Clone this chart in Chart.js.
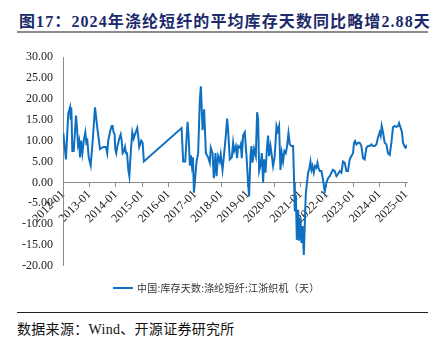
<!DOCTYPE html>
<html>
<head>
<meta charset="utf-8">
<script src="https://cdn.jsdelivr.net/npm/chart.js@4.4.1/dist/chart.umd.min.js"></script>
<style>
  body { margin: 0; background: #fff; width: 437px; height: 343px; position: relative; overflow: hidden; }
  #title { position: absolute; left: 19px; top: 8px; font: bold 16px "Liberation Serif", "Noto Sans CJK SC", serif; color: #1c2a6b; letter-spacing: 1.1px; white-space: nowrap; }
  #rule1 { position: absolute; left: 17px; top: 31px; width: 411px; height: 2px; background: #8c8c8c; }
  #wrap { position: absolute; left: 0; top: 40px; width: 437px; height: 243px; }
  #legend { position: absolute; left: 113px; top: 280px; font: 10px "Noto Sans CJK SC", sans-serif; color: #333; letter-spacing: 0.2px; white-space: nowrap; }
  #legend span.sw { display: inline-block; width: 20px; height: 2px; background: #0f70c1; vertical-align: middle; margin-right: 4px; position: relative; top: -1px; }
  #rule2 { position: absolute; left: 17px; top: 312px; width: 411px; height: 1px; background: #222; }
  #source { position: absolute; left: 17px; top: 318px; font: 14px "Liberation Serif", "Noto Sans CJK SC", serif; color: #111; letter-spacing: 0.3px; white-space: nowrap; }
</style>
</head>
<body>
<div id="title">图17：2024年涤纶短纤的平均库存天数同比略增2.88天</div>
<div id="rule1"></div>
<div id="wrap"><canvas id="chart"></canvas></div>
<div id="legend"><span class="sw"></span>中国:库存天数:涤纶短纤:江浙织机（天）</div>
<div id="rule2"></div>
<div id="source">数据来源：Wind、开源证券研究所</div>
<script>
// 中国:库存天数:涤纶短纤:江浙织机（天）
const dates = [
  '2012-01-05','2012-02-11','2012-03-14','2012-04-07','2012-04-17','2012-04-25','2012-05-09','2012-05-28',
  '2012-06-29','2012-07-13','2012-07-27','2012-08-10','2012-08-24','2012-09-07','2012-09-25','2012-10-14',
  '2012-11-05','2012-11-19','2012-12-03','2012-12-22','2013-01-19','2013-02-16','2013-03-20','2013-04-21',
  '2013-05-28','2013-07-12','2013-08-18','2013-09-05','2013-09-19','2013-10-12','2013-11-05','2013-11-19',
  '2013-12-02','2013-12-16','2013-12-25','2014-01-08','2014-01-22','2014-02-19','2014-03-10','2014-03-24',
  '2014-04-07','2014-04-25','2014-05-09','2014-05-23','2014-06-06','2014-06-24','2014-07-08','2014-07-31',
  '2014-08-18','2014-09-06','2014-09-24','2014-10-25','2014-11-08','2014-11-22','2014-12-20','2015-01-08',
  '2015-01-25','2016-06-30','2016-07-22','2016-08-19','2016-09-21','2016-10-05','2016-10-23','2016-11-06',
  '2016-11-20','2016-12-04','2016-12-18','2017-01-24','2017-02-15','2017-03-11','2017-03-25','2017-04-17',
  '2017-05-09','2017-06-02','2017-07-03','2017-07-26','2017-08-09','2017-09-02','2017-09-20','2017-10-13',
  '2017-10-27','2017-11-18','2017-12-11','2017-12-25','2018-01-18','2018-02-05','2018-03-05','2018-03-23',
  '2018-04-06','2018-04-29','2018-05-27','2018-06-14','2018-06-28','2018-07-21','2018-08-08','2018-08-22',
  '2018-09-15','2018-09-28','2018-10-12','2018-10-30','2018-11-22','2018-12-16','2019-01-07','2019-01-21',
  '2019-02-09','2019-02-23','2019-03-09','2019-03-31','2019-04-24','2019-05-12','2019-05-26','2019-06-09',
  '2019-06-28','2019-07-16','2019-08-03','2019-08-17','2019-09-05','2019-09-27','2019-10-11','2019-10-25',
  '2019-11-13','2019-11-27','2019-12-19','2020-01-11','2020-02-04','2020-02-22','2020-03-11','2020-03-30',
  '2020-04-17','2020-05-05','2020-05-24','2020-06-12','2020-06-30','2020-07-19','2020-08-06','2020-08-30',
  '2020-09-21','2020-10-05','2020-10-15','2020-10-29','2020-11-12','2020-11-30','2020-12-13','2021-01-02',
  '2021-01-16','2021-01-30','2021-02-17','2021-03-03','2021-03-16','2021-03-26','2021-04-09','2021-04-17',
  '2021-05-01','2021-05-20','2021-06-03','2021-06-17','2021-07-05','2021-07-23','2021-08-11','2021-08-25',
  '2021-09-08','2021-09-26','2021-10-19','2021-11-10','2021-12-04','2021-12-28','2022-01-19','2022-02-11',
  '2022-03-06','2022-03-28','2022-04-21','2022-05-15','2022-06-06','2022-06-29','2022-07-23','2022-08-14',
  '2022-09-07','2022-09-30','2022-10-22','2022-11-14','2022-12-08','2022-12-30','2023-01-13','2023-01-27',
  '2023-02-15','2023-03-09','2023-04-01','2023-04-25','2023-05-17','2023-06-09','2023-07-03','2023-07-25',
  '2023-08-17','2023-09-10','2023-10-02','2023-10-26','2023-11-18','2023-12-10','2024-01-03','2024-01-17',
  '2024-01-31','2024-02-18','2024-03-12','2024-04-05','2024-04-27','2024-05-21','2024-06-13','2024-07-05',
  '2024-07-29','2024-08-21','2024-09-13','2024-09-27','2024-10-16','2024-11-07','2024-11-21','2024-12-15',
  '2024-12-28','2025-01-16'
];
const values = [
  11.8, 5.5, 16.5, 18, 15, 18, 7.5, 7.5,
  16, 13, 9, 10, 6, 10, 7, 10,
  12, 9.5, 10, 6, 4, 10, 18, 13,
  8, 8.5, 8.5, 7, 10, 12, 13.5, 13.5,
  12, 11.5, 8, 7, 8.5, 10.5, 11.5, 10,
  7, 7.5, 8.5, 7, 7, 3, 1.5, 8,
  12, 10.5, 11.5, 13, 11, 8.5, 10, 9.5,
  5, 13, 5, 5, 14.5, 11, 4, 6.5,
  4, 6, -2.5, 5, 7, 20, 23, 12.5,
  17.5, 7, 6, 4.7, 8.3, 7, 1, 7,
  1.5, 6.3, 5, 6.7, 3, 6, 11.2, 15.3,
  12.5, 5.5, 6, 9.5, 7.5, 8.7, 5.8, 8.7,
  8.3, 9.1, 5.8, 11.2, 12, 6.3, 0, -3.4,
  6.3, 8.7, 4.7, 8, 6.3, 16.8, 15.2, 2.7,
  4, 7, 0, 5.5, 2.3, 8.7, 11.2, 6.3,
  8.7, 7, 3.9, 6.3, 13.5, 12.3, 13.5, 3,
  7, 5, 7.5, 7, 8.7, 11.8, 9.1, 8.7,
  8.7, 0, -7, -3, -13.8, -6.6, -14, -8.5,
  -14.5, -10.5, -17.4, -10, -3, -1.2, 1, 2.3,
  3, 5, 3, 3.9, 2.3, 3.9, 3.5, 4.7,
  3.5, 2.7, 2.7, 0.6, -2.2, 0, 1, 1.5,
  2.3, 3, 2.7, 1.5, 2, 2.7, 2.3, 5,
  4.7, 2.7, 2.7, 5.5, 6.3, 7, 9.5, 9.9,
  9.1, 9.5, 9.5, 8.7, 5.8, 5.5, 8.3, 8.7,
  8.7, 9.1, 8.7, 8.7, 9.1, 10.7, 12, 11.2,
  13.5, 12, 9.5, 9.1, 7, 6.6, 9.5, 13.2,
  13.5, 13.3, 13.5, 14.2, 13.2, 12, 9.5, 8.5,
  8.3, 9
];
const xTickLabels = ['2012-01','2013-01','2014-01','2015-01','2016-01','2017-01','2018-01',
  '2019-01','2020-01','2021-01','2022-01','2023-01','2024-01','2025-01'];
const yTicks = [-20, -15, -10, -5, 0, 5, 10, 15, 20, 25, 30];

// date string -> decimal year, so the time axis can be a plain linear scale
function toYear(s) {
  let [y, m, d] = s.split('-').map(Number);
  let start = Date.UTC(y, 0, 1);
  let days = (Date.UTC(y, m - 1, d) - start) / 86400000;
  return y + days / 365;
}
function labelToYear(s) {
  return toYear(s + '-01');
}

let points = dates.map((d, i) => ({x: toYear(d), y: values[i]}));
let tickYears = xTickLabels.map(labelToYear);

const serif = '"Liberation Serif", "Times New Roman", serif';

new Chart(document.getElementById('chart'), {
  type: 'line',
  data: {
    datasets: [{
      label: '中国:库存天数:涤纶短纤:江浙织机（天）',
      data: points,
      borderColor: '#0f70c1',
      borderWidth: 2,
      pointRadius: 0,
      tension: 0
    }]
  },
  options: {
    responsive: true,
    maintainAspectRatio: false,
    animation: false,
    layout: { padding: { top: 17, bottom: 12, left: 0, right: 30 } },
    plugins: { legend: { display: false }, tooltip: { enabled: false } },
    scales: {
      x: {
        type: 'linear',
        position: { y: 0 },
        min: tickYears[0],
        max: points[points.length - 1].x,
        afterBuildTicks: (scale) => { scale.ticks = tickYears.map(v => ({value: v})); },
        grid: { drawOnChartArea: false, drawTicks: true, tickLength: 4, color: '#8a8a8a' },
        border: { color: '#8a8a8a', width: 1 },
        ticks: {
          minRotation: 45,
          maxRotation: 45,
          padding: 1,
          color: '#222',
          font: { family: serif, size: 12 },
          callback: (v, i) => xTickLabels[i]
        }
      },
      y: {
        min: yTicks[0],
        max: yTicks[yTicks.length - 1],
        afterBuildTicks: (scale) => { scale.ticks = yTicks.map(v => ({value: v})); },
        afterFit: (scale) => { scale.width = 63; },
        grid: { drawOnChartArea: false, drawTicks: false },
        border: { color: '#8a8a8a', width: 1 },
        ticks: {
          padding: 10,
          color: '#222',
          font: { family: serif, size: 12 },
          callback: (v) => v.toFixed(2)
        }
      }
    }
  }
});
</script>
</body>
</html>
